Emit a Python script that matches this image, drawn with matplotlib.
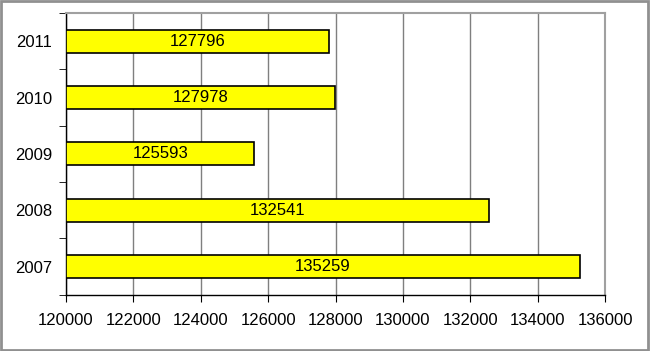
import matplotlib
matplotlib.use("Agg")
import matplotlib.pyplot as plt
import numpy as np

plt.rcParams['font.family'] = ['Liberation Sans', 'DejaVu Sans']

years = ['2007', '2008', '2009', '2010', '2011']
values = [135259, 132541, 125593, 127978, 127796]
x_ticks = [120000, 122000, 124000, 126000, 128000, 130000, 132000, 134000, 136000]

fig = plt.figure(figsize=(6.5, 3.51), dpi=100)
ax = fig.add_axes([0.1015, 0.16, 0.8295, 0.803])

pos = np.arange(len(years))
base = 120000
ax.barh(pos, [v - base for v in values], left=base, height=0.41,
        color='#ffff00', edgecolor='black', linewidth=1.2, zorder=3)

# value labels centred in each bar
for p, v in zip(pos, values):
    ax.text(base + (v - base) / 2, p, str(v), ha='center', va='center',
            fontsize=12, color='black', zorder=4)

ax.set_xlim(120000, 136000)
ax.set_ylim(-0.5, len(years) - 0.5)
ax.set_xticks(x_ticks)
ax.set_xticklabels([str(t) for t in x_ticks], fontsize=12)
ax.set_yticks(pos)
ax.set_yticklabels(years, fontsize=12)
ax.set_yticks(np.arange(-0.5, len(years)), minor=True)
ax.tick_params(axis='y', which='major', length=0, pad=10)
ax.tick_params(axis='y', which='minor', length=5, direction='out', color='black')
ax.tick_params(axis='x', length=5, direction='out', color='black', pad=8)

ax.grid(axis='x', color='#7f7f7f', linewidth=1.0, zorder=0)
ax.set_axisbelow(True)

for s in ['top', 'right']:
    ax.spines[s].set_color('#a0a0a0')
    ax.spines[s].set_linewidth(1.5)
for s in ['left', 'bottom']:
    ax.spines[s].set_color('black')
    ax.spines[s].set_linewidth(1.0)

# grey frame around the whole picture
fig.patches.append(plt.Rectangle((0.002, 0.003), 0.995, 0.994, transform=fig.transFigure,
                                 fill=False, edgecolor='#909090', linewidth=2))

fig.savefig('out.png', dpi=100)
